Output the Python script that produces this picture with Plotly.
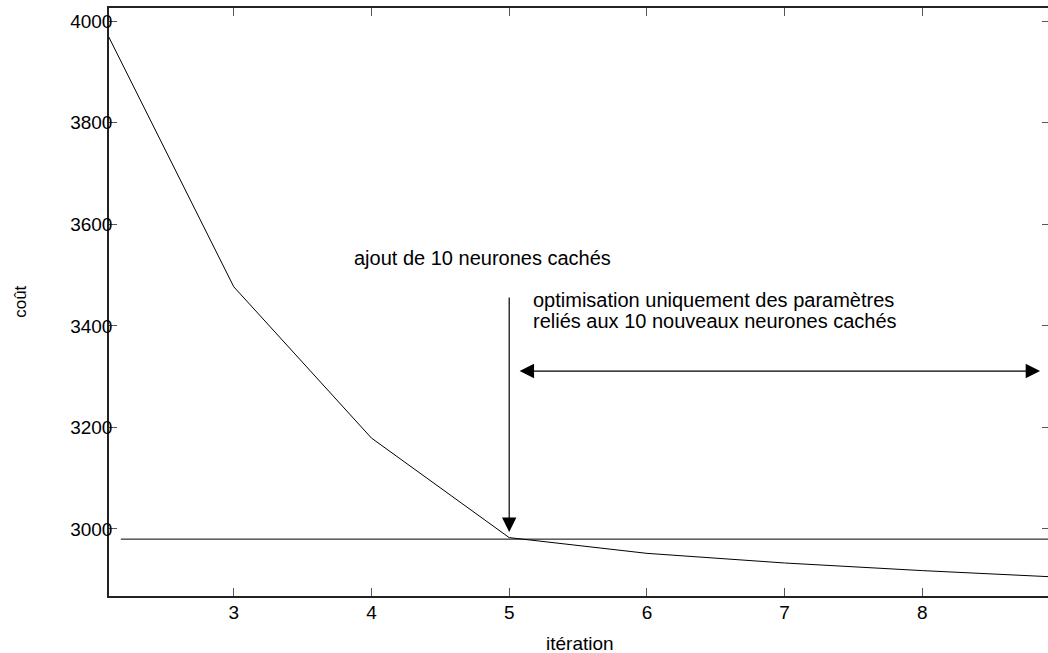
import plotly.graph_objects as go

# data
iterations = [2, 3, 4, 5, 6, 7, 8, 9]
cost = [4019, 3477, 3179, 2983, 2952, 2933, 2918, 2905]
ref_x = [2.18, 9.0]
ref_y = [2980, 2980]
x_ticks = [3, 4, 5, 6, 7, 8]
y_ticks = [3000, 3200, 3400, 3600, 3800, 4000]

# annotation anchors (data units)
add_x = 5.0
add_arrow_top = 3459
add_arrow_tip = 2994
span_y = 3311
span_start = 5.065
span_end = 8.855
label1 = "ajout de 10 neurones cachés"
label2a = "optimisation uniquement des paramètres"
label2b = "reliés aux 10 nouveaux neurones cachés"

FONT = "Liberation Sans, Arial, Helvetica, sans-serif"

fig = go.Figure()
fig.add_trace(go.Scatter(x=iterations, y=cost, mode="lines",
                         line=dict(color="black", width=1), showlegend=False))
fig.add_trace(go.Scatter(x=ref_x, y=ref_y, mode="lines",
                         line=dict(color="black", width=1), showlegend=False))

fig.add_annotation(x=add_x, y=add_arrow_tip, ax=add_x, ay=add_arrow_top,
                   xref="x", yref="y", axref="x", ayref="y", text="",
                   showarrow=True, arrowhead=2, arrowsize=2.4, arrowwidth=1.2,
                   arrowcolor="black")
fig.add_annotation(x=span_end, y=span_y, ax=span_start, ay=span_y,
                   xref="x", yref="y", axref="x", ayref="y", text="",
                   showarrow=True, arrowhead=2, startarrowhead=2,
                   arrowside="end+start", arrowsize=2.4, startarrowsize=2.4,
                   arrowwidth=1.2, arrowcolor="black")

fig.add_annotation(x=3.855, y=3533, xref="x", yref="y", text=label1,
                   showarrow=False, xanchor="left", yanchor="middle",
                   font=dict(family=FONT, size=20, color="black"))
fig.add_annotation(x=5.16, y=3450, xref="x", yref="y", text=label2a,
                   showarrow=False, xanchor="left", yanchor="middle",
                   font=dict(family=FONT, size=20, color="black"))
fig.add_annotation(x=5.16, y=3410, xref="x", yref="y", text=label2b,
                   showarrow=False, xanchor="left", yanchor="middle",
                   font=dict(family=FONT, size=20, color="black"))

fig.add_annotation(x=0.5, y=-0.0816, xref="paper", yref="paper",
                   text="itération", showarrow=False, xanchor="center",
                   yanchor="middle", font=dict(family=FONT, size=19, color="black"))
fig.add_annotation(x=-0.0948, y=0.5, xref="paper", yref="paper",
                   text="coût", showarrow=False, textangle=-90, xanchor="center",
                   yanchor="middle", font=dict(family=FONT, size=17, color="black"))

axis_common = dict(showgrid=False, zeroline=False, showline=True,
                   linecolor="#222", linewidth=1.5, mirror="ticks",
                   ticks="inside", ticklen=8, tickwidth=1.2, tickcolor="#555",
                   tickfont=dict(family=FONT, size=19, color="black"))
fig.update_xaxes(range=[2.094, 8.927], tickvals=x_ticks, ticklabelstandoff=-2, **axis_common)
fig.update_yaxes(range=[2868, 4026], tickvals=y_ticks, tickformat="d",
                 ticklabelstandoff=-9, **axis_common)

fig.update_layout(width=1052, height=653, plot_bgcolor="white", paper_bgcolor="white",
                  margin=dict(l=109, r=0, t=8, b=57), showlegend=False)
fig.write_html("out.html", config={"displayModeBar": False},
               post_script="document.body.style.margin='0';document.body.style.overflow='hidden';")
